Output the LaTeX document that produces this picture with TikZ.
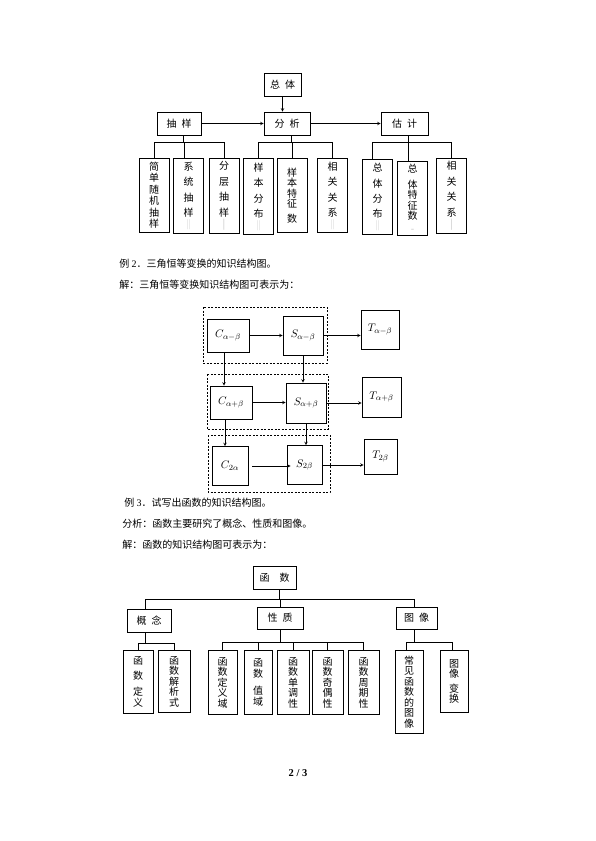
\documentclass[tikz,border=0pt]{standalone}
\usepackage{fontspec}
\setmainfont{Noto Sans CJK SC}
\newfontfamily\timesfont{Liberation Serif}
\usetikzlibrary{positioning}

\newcommand{\faintmark}[1]{{\color{gray!45}#1}}
\tikzset{
    box/.style={draw, inner sep=0pt, minimum height=23pt, font=\fontsize{10}{12}\selectfont},
    leaf/.style={draw, line width=0.8pt, anchor=north, inner sep=0pt, align=center,
        minimum width=30pt, font=\fontsize{10}{10.5}\selectfont},
    mbox/.style={draw, inner sep=0pt, font=\fontsize{11}{13}\selectfont},
    group/.style={draw, dash pattern=on 2pt off 1.5pt},
    line/.style={anchor=west, inner sep=0pt, font=\fontsize{10}{12}\selectfont}
}

\begin{document}
\begin{tikzpicture}[x=1pt, y=-1pt, >=stealth, line width=0.6pt]
    \useasboundingbox (0,0) rectangle (595,841);

    % statistics
    \node[box, minimum width=37pt] (zt) at (282.5,85) {总\hspace{0.5em}体};
    \node[box, minimum width=44pt] (cy) at (179,123.5) {抽\hspace{0.5em}样};
    \node[box, minimum width=46pt] (fx) at (287,123.5) {分\hspace{0.5em}析};
    \node[box, minimum width=47pt] (gu) at (404.5,123.5) {估\hspace{0.5em}计};

    \node[leaf, minimum height=74pt] (l1) at (154,158) {简\\[1pt]单\\[1pt]随\\[1pt]机\\[1pt]抽\\[1pt]样};
    \node[leaf, minimum height=75pt] (l2) at (188.5,158) {系\\[5pt]统\\[5pt]抽\\[5pt]样\\[1pt]\faintmark{‖}};
    \node[leaf, minimum height=75pt] (l3) at (224,158) {分\\[5pt]层\\[5pt]抽\\[5pt]样\\[1pt]\faintmark{|}};
    \node[leaf, minimum height=76pt] (l4) at (258.5,158) {样\\[5pt]本\\[5pt]分\\[5pt]布\\[1pt]\faintmark{‖}};
    \node[leaf, minimum height=74pt] (l5) at (292,158) {样\\本\\特\\征\\[4pt]数};
    \node[leaf, minimum height=74pt] (l6) at (332.5,158) {相\\[5pt]关\\[5pt]关\\[5pt]系\\[1pt]\faintmark{‖}};
    \node[leaf, minimum height=75pt] (l7) at (377.5,159) {总\\[5pt]体\\[5pt]分\\[5pt]布\\[1pt]\faintmark{‖}};
    \node[leaf, minimum height=74pt] (l8) at (412.5,161) {总\\[5pt]体\\特\\征\\数\\[2pt]\faintmark{-}};
    \node[leaf, minimum height=75pt] (l9) at (451.5,158) {相\\[5pt]关\\[5pt]关\\[5pt]系\\[1pt]\faintmark{|}};

    \draw[->] (zt.south) -- (zt.south |- fx.north);
    \draw[->] (cy.east) -- (fx.west);
    \draw[->] (fx.east) -- (gu.west);

    \coordinate (tj) at (0,142);
    \draw ([xshift=4pt]cy.south) -- ([xshift=4pt]cy.south |- tj);
    \draw (l1.north) -- (l1.north |- tj) -- (l3.north |- tj) -- (l3.north);
    \draw ([xshift=-4pt]l2.north) -- ([xshift=-4pt]l2.north |- tj);
    \draw ([xshift=4pt]fx.south) -- ([xshift=4pt]fx.south |- tj);
    \draw (l4.north) -- (l4.north |- tj) -- (l6.north |- tj) -- (l6.north);
    \draw (l5.north) -- (l5.north |- tj);
    \draw ([xshift=4pt]gu.south) -- ([xshift=4pt]gu.south |- tj);
    \draw ([xshift=-5pt]l7.north) -- ([xshift=-5pt]l7.north |- tj) -- (l9.north |- tj) -- (l9.north);
    \draw ([xshift=-4pt]l8.north) -- ([xshift=-4pt]l8.north |- tj);

    % text
    \node[line] (ex2) at (119,264) {例 {\timesfont 2}．三角恒等变换的知识结构图。};
    \node[line] (sol2) at (119,285) {解：三角恒等变换知识结构图可表示为：};

    % trigonometric identities
    \draw[group] (203,307) rectangle (327,363);
    \draw[group] (207,374) rectangle (328,429);
    \draw[group] (208,435) rectangle (330,492);

    \node[mbox, minimum width=42pt, minimum height=33pt] (c1) at (228,335.5) {$C_{\alpha-\beta}$};
    \node[mbox, minimum width=40pt, minimum height=39pt] (s1) at (303,335.5) {$S_{\alpha-\beta}$};
    \node[mbox, minimum width=38pt, minimum height=39pt] (t1) at (380,329.5) {$T_{\alpha-\beta}$};
    \node[mbox, minimum width=42pt, minimum height=33pt] (c2) at (231,402.5) {$C_{\alpha+\beta}$};
    \node[mbox, minimum width=40pt, minimum height=40pt] (s2) at (306,403) {$S_{\alpha+\beta}$};
    \node[mbox, minimum width=39pt, minimum height=40pt] (t2) at (381.5,397) {$T_{\alpha+\beta}$};
    \node[mbox, minimum width=36pt, minimum height=39pt] (c3) at (230,466) {$C_{2\alpha}$};
    \node[mbox, minimum width=35pt, minimum height=39pt] (s3) at (304.5,465) {$S_{2\beta}$};
    \node[mbox, minimum width=33pt, minimum height=35pt] (t3) at (380.5,456.5) {$T_{2\beta}$};

    \draw[->] (c1.east) -- (c1.east -| s1.west);
    \draw[->] (s1.east) -- (s1.east -| t1.west);
    \draw[->] (c2.east) -- (c2.east -| s2.west);
    \draw[->] (s2.east) -- (s2.east -| t2.west);
    \draw[->] ([xshift=4pt]c3.east) -- ([xshift=4pt]c3.east -| s3.west);
    \draw[->] (s3.east) -- (s3.east -| t3.west);
    \draw[->] ([xshift=-4pt]c1.south) -- ([xshift=-4pt]c1.south |- c2.north);
    \draw[->] (s1.south) -- (s1.south |- s2.north);
    \draw[->] ([xshift=-6pt]c2.south) -- ([xshift=-6pt]c2.south |- c3.north);
    \draw[->] (s2.south) -- (s2.south |- s3.north);

    % text
    \node[line] (ex3) at (124,503) {例 {\timesfont 3}．试写出函数的知识结构图。};
    \node[line] (ana3) at (122,524) {分析：函数主要研究了概念、性质和图像。};
    \node[line] (sol3) at (122,545) {解：函数的知识结构图可表示为：};

    % functions
    \node[box, minimum width=43pt] (hs) at (274.5,577.5) {函\hspace{1em}数};
    \node[box, minimum width=44pt] (gn) at (149,620.5) {概\hspace{0.5em}念};
    \node[box, minimum width=46pt, minimum height=22pt] (xz) at (280,618) {性\hspace{0.5em}质};
    \node[box, minimum width=41pt, minimum height=22pt] (tx) at (416.5,618) {图\hspace{0.5em}像};

    \node[leaf, minimum height=63pt] (g1) at (138,650) {函\\[5pt]数\\[5pt]定\\[1pt]义};
    \node[leaf, minimum height=62pt, minimum width=32pt] (g2) at (174,650) {函\\数\\解\\析\\式};
    \node[leaf, minimum height=64pt, minimum width=29pt] (x1) at (222.5,650) {函\\数\\定\\义\\域};
    \node[leaf, minimum height=64pt, minimum width=28pt] (x2) at (258,650) {函\\数\\[7pt]值\\域};
    \node[leaf, minimum height=64pt, minimum width=32pt] (x3) at (293,650) {函\\数\\单\\调\\性};
    \node[leaf, minimum height=64pt, minimum width=31pt] (x4) at (327.5,650) {函\\数\\奇\\偶\\性};
    \node[leaf, minimum height=64pt, minimum width=31pt] (x5) at (363.5,650) {函\\数\\周\\期\\性};
    \node[leaf, minimum height=83pt, minimum width=28pt] (t1b) at (409,650) {常\\见\\函\\数\\的\\图\\像};
    \node[leaf, minimum height=62pt, minimum width=28pt] (t2b) at (454,650) {图\\像\\[4pt]变\\换};

    \coordinate (hj) at (0,599);
    \draw ([xshift=4.5pt]hs.south) -- ([xshift=4.5pt]hs.south |- hj);
    \draw ([xshift=-4pt]gn.north) -- ([xshift=-4pt]gn.north |- hj) -- ([xshift=-2.5pt]tx.north |- hj) -- ([xshift=-2.5pt]tx.north);
    \draw (xz.north) -- (xz.north |- hj);

    \draw ([xshift=-4pt]gn.south) -- ++(0,11) coordinate (gj);
    \draw (g1.north) -- (g1.north |- gj) -- (g2.north |- gj) -- (g2.north);
    \draw (xz.south) -- ++(0,13) coordinate (xj);
    \draw (x1.north) -- (x1.north |- xj) -- (x5.north |- xj) -- (x5.north);
    \foreach \n in {x2,x3,x4}
        \draw (\n.north) -- (\n.north |- xj);
    \draw ([xshift=-2.5pt]tx.south) -- ++(0,13) coordinate (txj);
    \draw ([xshift=-3pt]t1b.north) -- ([xshift=-3pt]t1b.north |- txj) -- ([xshift=-2pt]t2b.north |- txj) -- ([xshift=-2pt]t2b.north);

    \node[font=\timesfont\bfseries\fontsize{10.5}{12}\selectfont] (pg) at (298,773) {2 / 3};
\end{tikzpicture}
\end{document}
